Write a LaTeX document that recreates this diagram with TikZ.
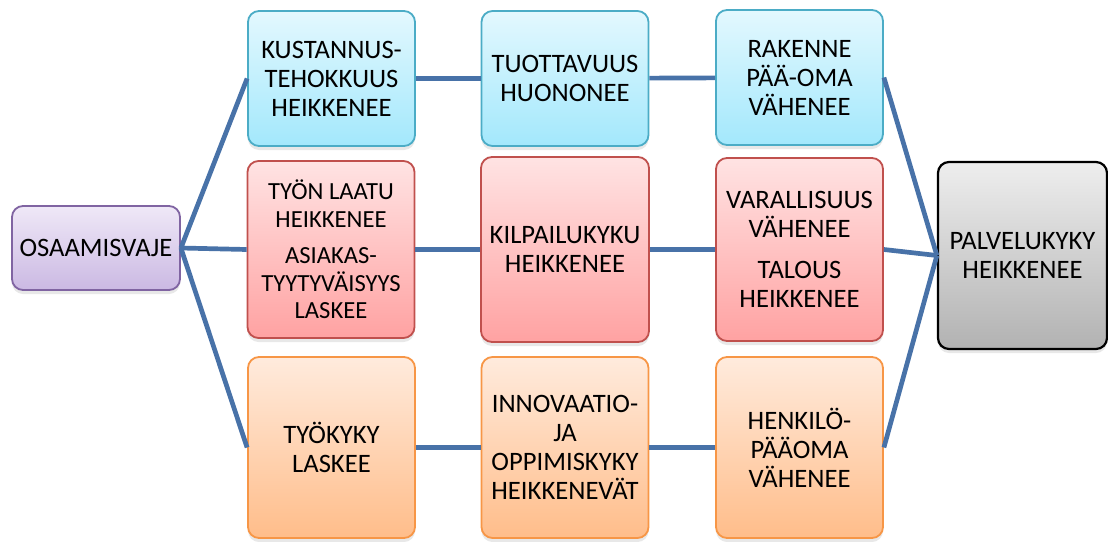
\documentclass[tikz,border=0pt]{standalone}
\usepackage{fontspec}
\setmainfont{Carlito}
\usepackage{tikz}
\usetikzlibrary{shadows}
\definecolor{linkblue}{HTML}{4872A8}
\definecolor{cyanline}{HTML}{4BACC6}
\definecolor{cyantop}{HTML}{E3F8FE}
\definecolor{cyanbot}{HTML}{A3E8FC}
\definecolor{redline}{HTML}{C0504D}
\definecolor{redtop}{HTML}{FFE3E3}
\definecolor{redbot}{HTML}{FFA2A2}
\definecolor{orline}{HTML}{F79646}
\definecolor{ortop}{HTML}{FFEBDD}
\definecolor{orbot}{HTML}{FFBD8A}
\definecolor{purline}{HTML}{8064A2}
\definecolor{purtop}{HTML}{EFE8F7}
\definecolor{purbot}{HTML}{CBB9E3}
\definecolor{graytop}{HTML}{EEEEEE}
\definecolor{graybot}{HTML}{B2B2B2}
\tikzset{
	box/.style={draw, rounded corners=11pt, align=center, line width=1.8pt,
		minimum width=167pt, inner sep=2pt,
		font=\fontsize{26.6}{29}\selectfont,
		drop shadow={shadow xshift=0pt, shadow yshift=-4pt, opacity=0.18}},
	cyanbox/.style={box, draw=cyanline, top color=cyantop, bottom color=cyanbot},
	redbox/.style={box, draw=redline, top color=redtop, bottom color=redbot},
	orbox/.style={box, draw=orline, top color=ortop, bottom color=orbot},
	purbox/.style={box, draw=purline, top color=purtop, bottom color=purbot},
	graybox/.style={box, draw=black, line width=2.2pt, top color=graytop, bottom color=graybot},
	link/.style={draw=linkblue, line width=4.7pt},
}

\begin{document}
\begin{tikzpicture}[x=1pt, y=-1pt]
\useasboundingbox (0,0) rectangle (1108,541);
\node[purbox, minimum width=168pt, minimum height=84pt] (osa) at (96,248) {OSAAMISVAJE};
\node[cyanbox, minimum height=135pt] (kust) at (331.5,78.5) {KUSTANNUS-\\TEHOKKUUS\\HEIKKENEE};
\node[cyanbox, minimum height=135pt] (tuot) at (565,78.5) {TUOTTAVUUS\\HUONONEE};
\node[cyanbox, minimum height=135pt] (rak) at (799.5,77.5) {RAKENNE\\PÄÄ-OMA\\VÄHENEE};
\node[redbox, minimum height=177pt, font=\fontsize{24.6}{27.5}\selectfont] (laatu) at (331,249.5)
	{TYÖN LAATU\\HEIKKENEE\\[9pt]ASIAKAS-\\TYYTYVÄISYYS\\LASKEE};
\node[redbox, minimum width=168pt, minimum height=185pt] (kilp) at (565,249.5) {KILPAILUKYKU\\HEIKKENEE};
\node[redbox, minimum height=183pt] (var) at (799.5,249.5) {VARALLISUUS\\VÄHENEE\\[12pt]TALOUS\\HEIKKENEE};
\node[orbox, minimum height=181pt] (tyok) at (331.5,447.5) {TYÖKYKY\\LASKEE};
\node[orbox, minimum height=181pt] (inno) at (565,447.5) {INNOVAATIO-\\JA\\OPPIMISKYKY\\HEIKKENEVÄT};
\node[orbox, minimum height=181pt] (henk) at (799.5,447.5) {HENKILÖ-\\PÄÄOMA\\VÄHENEE};
\node[graybox, minimum width=169pt, minimum height=187pt] (palv) at (1022.5,255.5) {PALVELUKYKY\\HEIKKENEE};
\draw[link] (osa.east) -- (kust.west);
\draw[link] (osa.east) -- (laatu.west);
\draw[link] (osa.east) -- (tyok.west);
\draw[link] (kust) -- (tuot);
\draw[link] (tuot) -- (rak);
\draw[link] (laatu) -- (kilp);
\draw[link] (kilp) -- (var);
\draw[link] (tyok) -- (inno);
\draw[link] (inno) -- (henk);
\draw[link] (rak.east) -- (palv.west);
\draw[link] (var.east) -- (palv.west);
\draw[link] (henk.east) -- (palv.west);
\end{tikzpicture}
\end{document}
